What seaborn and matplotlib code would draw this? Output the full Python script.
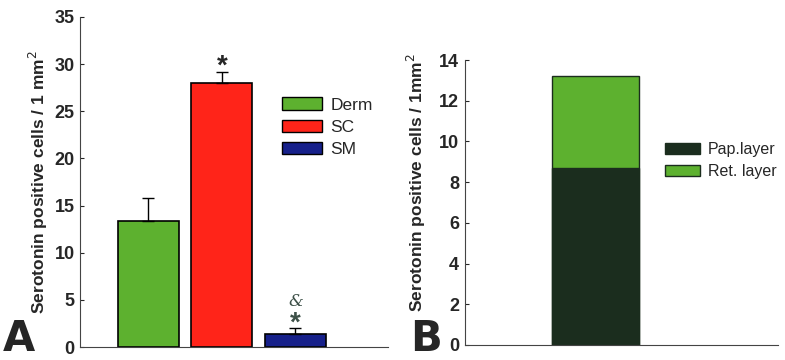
import matplotlib
matplotlib.use("Agg")

import matplotlib.pyplot as plt
import seaborn as sns
import pandas as pd
from matplotlib.patches import Patch

# panel A data
regions = ["Derm", "SC", "SM"]
counts = [13.4, 28.0, 1.35]
errors = [2.4, 1.2, 0.65]
region_colors = ["#5db12f", "#ff2419", "#16208a"]

# panel B data
layers = ["Pap.layer", "Ret. layer"]
layer_counts = [8.7, 4.5]
layer_colors = ["#1b2d1e", "#5db12f"]

sns.set_style("ticks")
plt.rcParams["font.family"] = ["Liberation Sans", "DejaVu Sans"]

fig = plt.figure(figsize=(7.85, 3.6), dpi=100)
ax_a = fig.add_axes([0.102, 0.036, 0.392, 0.917])
ax_b = fig.add_axes([0.592, 0.042, 0.399, 0.791])

# ---- panel A ----
df_a = pd.DataFrame({"region": regions, "count": counts})
sns.barplot(data=df_a, x="region", y="count", hue="region", palette=region_colors,
            width=0.83, saturation=1, edgecolor="black", linewidth=1.2,
            legend=False, ax=ax_a)
ax_a.errorbar(range(len(regions)), counts, yerr=[[0] * 3, errors], fmt="none",
              ecolor="black", elinewidth=1, capsize=4, capthick=1)
ax_a.set_ylim(0, 35)
ax_a.set_xlim(-0.93, 3.26)
ax_a.set_yticks(range(0, 36, 5))
ax_a.set_xticks([])
ax_a.set_xlabel("")
ax_a.set_ylabel("Serotonin positive cells / 1 mm$^2$", fontsize=12.5,
                fontweight="bold", labelpad=3)
ax_a.text(1, 29.7, "*", ha="center", va="center", fontsize=20, fontweight="bold")
ax_a.text(2, 2.5, "*", ha="center", va="center", fontsize=20, fontweight="bold",
          color="#3d5048")
ax_a.text(2, 4.8, "&", ha="center", va="center", fontsize=12, family="DejaVu Serif",
          style="italic", color="#3d5048")
ax_a.legend(handles=[Patch(facecolor=c, edgecolor="black", label=r)
                     for r, c in zip(regions, region_colors)],
            loc="upper left", bbox_to_anchor=(0.633, 0.777), frameon=False,
            fontsize=12.5, handlelength=2.3, handleheight=0.7, labelspacing=0.4,
            handletextpad=0.5, borderaxespad=0)

# ---- panel B ----
df_b = pd.DataFrame({"group": ["x"], "total": [sum(layer_counts)],
                     "pap": [layer_counts[0]]})
sns.barplot(data=df_b, x="group", y="total", color=layer_colors[1], width=0.8,
            saturation=1, edgecolor="#1b2d1e", linewidth=1, ax=ax_b)
sns.barplot(data=df_b, x="group", y="pap", color=layer_colors[0], width=0.8,
            saturation=1, edgecolor="#1b2d1e", linewidth=1, ax=ax_b)
ax_b.set_ylim(0, 14)
ax_b.set_xlim(-1.2, 1.68)
ax_b.set_yticks(range(0, 15, 2))
ax_b.set_xticks([])
ax_b.set_xlabel("")
ax_b.set_ylabel("Serotonin positive cells / 1mm$^2$", fontsize=12.5,
                fontweight="bold")
ax_b.yaxis.set_label_coords(-0.118, 0.57)
ax_b.legend(handles=[Patch(facecolor=c, edgecolor="#1b2d1e", label=l)
                     for l, c in zip(layers, layer_colors)],
            loc="upper left", bbox_to_anchor=(0.619, 0.735), frameon=False,
            fontsize=11.5, handlelength=2.2, handleheight=0.7, labelspacing=0.45,
            handletextpad=0.5, borderaxespad=0)

for ax in (ax_a, ax_b):
    sns.despine(ax=ax)
    ax.tick_params(axis="y", direction="in", length=3, labelsize=13, pad=4)
    for lab in ax.get_yticklabels():
        lab.set_fontweight("bold")
    ax.spines["left"].set_color("#444444")
    ax.spines["bottom"].set_color("#444444")

fig.text(0.003, 0.0, "A", fontsize=30, fontweight="bold", family="DejaVu Sans",
         va="bottom")
fig.text(0.522, 0.0, "B", fontsize=30, fontweight="bold", family="DejaVu Sans",
         va="bottom")

fig.savefig("out.png", dpi=100)
plt.close(fig)
